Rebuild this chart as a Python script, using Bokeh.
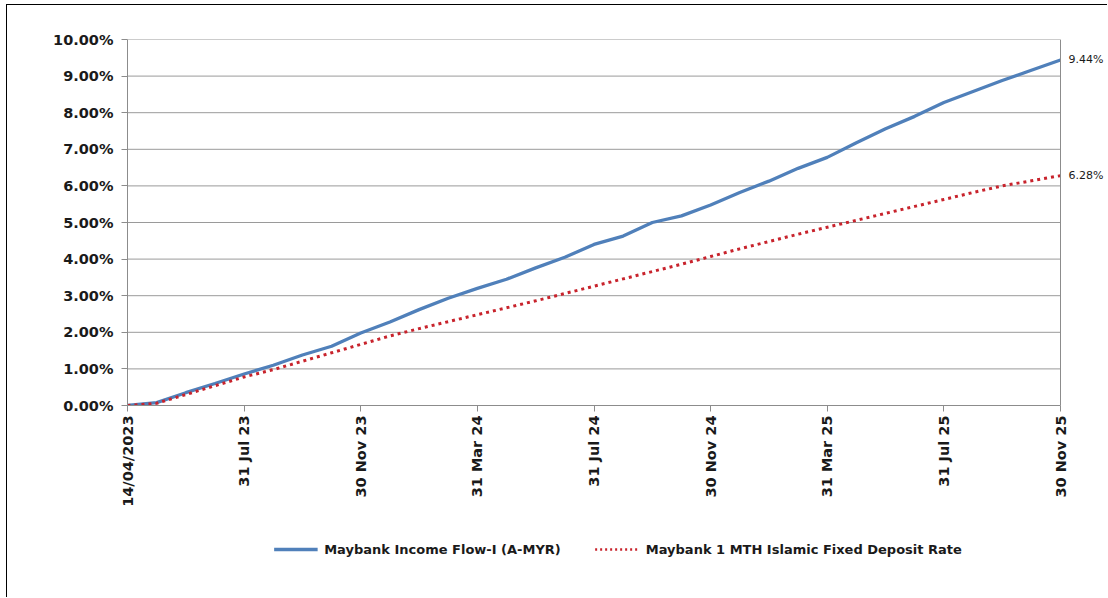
import math
from bokeh.plotting import figure
from bokeh.layouts import column
from bokeh.core.properties import value
from bokeh.models import (Range1d, FixedTicker, PrintfTickFormatter, Legend,
                          LegendItem, Span)
from bokeh.embed import file_html
from bokeh.resources import INLINE

# ---- data (cumulative return, %) ----
tick_labels = ["14/04/2023", "31 Jul 23", "30 Nov 23", "31 Mar 24", "31 Jul 24",
               "30 Nov 24", "31 Mar 25", "31 Jul 25", "30 Nov 25"]
fund_name = "Maybank Income Flow-I (A-MYR)"
fd_name = "Maybank 1 MTH Islamic Fixed Deposit Rate"
fund = [0.00, 0.08, 0.35, 0.60, 0.86, 1.10, 1.38, 1.62, 1.98, 2.28, 2.62, 2.93,
        3.20, 3.45, 3.76, 4.05, 4.40, 4.63, 5.00, 5.18, 5.48, 5.82, 6.13, 6.48,
        6.78, 7.18, 7.56, 7.90, 8.28, 8.58, 8.88, 9.16, 9.44]
fd = [0.00, 0.06, 0.30, 0.54, 0.78, 0.98, 1.21, 1.44, 1.67, 1.90, 2.10, 2.29,
      2.48, 2.67, 2.86, 3.06, 3.26, 3.46, 3.66, 3.86, 4.07, 4.28, 4.48, 4.68,
      4.87, 5.06, 5.25, 5.44, 5.63, 5.82, 6.00, 6.14, 6.28]
y_ticks = list(range(0, 11))
x = list(range(len(fund)))
tick_pos = list(range(0, len(fund), 4))
x_last = x[-1]

FONT = "DejaVu Sans"
GRID = "#9a9a9a"
AXIS = "#8c8c8c"
BLUE = "#5080BA"
RED = "#C8232C"

# frame: 127..1108 px wide, data spans 127..1060 px -> extra room for end labels
plot_w, frame_left = 1101, 120
data_px = 1060 - 127
frame_px = plot_w - frame_left
x_end = x_last * frame_px / data_px

p = figure(width=plot_w, height=510, output_backend="svg", toolbar_location=None,
           x_range=Range1d(0, x_end), y_range=Range1d(0, 10),
           min_border_left=frame_left, min_border_top=34, min_border_right=0,
           min_border_bottom=110)
p.styles = {"border-left": "1px solid #000", "border-top": "1px solid #000"}
p.background_fill_color = "white"
p.border_fill_color = "white"
p.outline_line_color = None

# grid (drawn only across the data span)
p.xgrid.grid_line_color = None
p.ygrid.grid_line_color = None
p.segment(x0=[0] * len(y_ticks), y0=y_ticks, x1=[x_last] * len(y_ticks),
          y1=y_ticks, line_color=GRID, line_width=1)
p.add_layout(Span(location=x_last, dimension="height", line_color=AXIS,
                  line_width=1))

# y axis
p.yaxis.ticker = FixedTicker(ticks=y_ticks)
p.yaxis.formatter = PrintfTickFormatter(format="%.2f%%")
# x axis
p.xaxis.ticker = FixedTicker(ticks=tick_pos)
p.xaxis.bounds = (0, x_last)
p.xaxis.major_label_overrides = {t: l for t, l in zip(tick_pos, tick_labels)}
p.xaxis.major_label_orientation = math.pi / 2

for ax in (p.xaxis, p.yaxis):
    ax.axis_line_color = AXIS
    ax.major_tick_line_color = AXIS
    ax.major_tick_out = 6
    ax.major_tick_in = 0
    ax.minor_tick_line_color = None
    ax.major_label_text_font = FONT
    ax.major_label_text_font_style = "bold"
    ax.major_label_text_font_size = "14.5px"
    ax.major_label_text_color = "#1a1a1a"
p.yaxis.major_label_standoff = 8
p.xaxis.major_label_standoff = 4

p.line(x, fund, line_color=BLUE, line_width=3.3)
p.line(x, fd, line_color=RED, line_width=3, line_dash="3 4")

# end-value labels
p.text(x=[x_last, x_last], y=[fund[-1], fd[-1]],
       text=[f"{fund[-1]:.2f}%", f"{fd[-1]:.2f}%"],
       x_offset=8, text_baseline="middle", text_align="left",
       text_font=value(FONT), text_font_size="11px",
       text_color="#1a1a1a")

# ---- legend strip below the chart ----
lf = figure(width=plot_w, height=83, output_backend="svg", toolbar_location=None,
            x_range=Range1d(0, 1), y_range=Range1d(0, 1),
            min_border_left=frame_left, min_border_right=0, min_border_top=0,
            min_border_bottom=13)
lf.styles = {"border-left": "1px solid #000"}
lf.axis.visible = False
lf.grid.visible = False
lf.outline_line_color = None
lf.background_fill_color = "white"
lf.border_fill_color = "white"
# proxy renderers (outside the visible range) that only feed the legend
l1 = lf.line(x, fund, line_color=BLUE, line_width=3.3)
l2 = lf.line(x, fd, line_color=RED, line_width=2.4, line_dash="2 3")
lf.x_range.start, lf.x_range.end = -3, -2

legend = Legend(items=[LegendItem(label=fund_name, renderers=[l1]),
                       LegendItem(label=fd_name, renderers=[l2])],
                orientation="horizontal", location="center")
legend.label_text_font = FONT
legend.label_text_font_style = "bold"
legend.label_text_font_size = "13px"
legend.label_text_color = "#1a1a1a"
legend.glyph_width = 44
legend.label_standoff = 7
legend.spacing = 34
legend.border_line_color = None
legend.background_fill_alpha = 0
lf.add_layout(legend, "center")

layout = column(p, lf, spacing=0)
layout.margin = (4, 0, 0, 6)

open("out.html", "w").write(file_html(layout, INLINE))
